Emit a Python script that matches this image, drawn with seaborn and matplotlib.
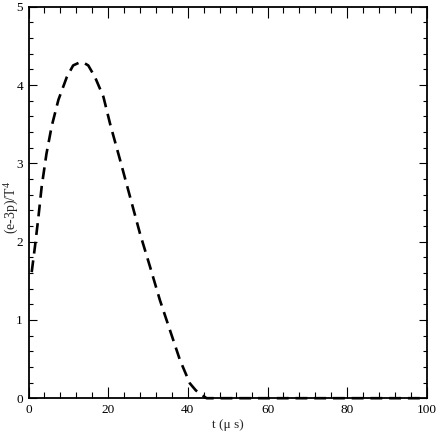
import matplotlib
matplotlib.use("Agg")
import matplotlib.pyplot as plt
import seaborn as sns
from matplotlib.ticker import MultipleLocator

# (e-3p)/T^4
t_us = [0.8, 1.6, 2.5, 3.3, 4.5, 5.8, 7.5, 9.6, 11.2, 12.9, 14.0, 15.0, 16.7,
        18.8, 20.5, 23.0, 25.5, 28.0, 30.5, 33.0, 35.5, 38.0, 40.5, 42.0, 43.0,
        44.7, 46.0, 50.0, 60.0, 70.0, 80.0, 90.0, 100.0]
trace = [1.61, 1.93, 2.32, 2.70, 3.12, 3.47, 3.81, 4.10, 4.25, 4.29, 4.28, 4.25, 4.10,
         3.85, 3.50, 3.04, 2.57, 2.10, 1.68, 1.25, 0.87, 0.49, 0.19, 0.10, 0.06,
         0.0, 0.0, 0.0, 0.0, 0.0, 0.0, 0.0, 0.0]

sns.set_style("ticks")
plt.rcParams['font.family'] = ['Liberation Serif', 'DejaVu Serif']
plt.rcParams['mathtext.fontset'] = 'custom'
plt.rcParams['mathtext.rm'] = 'Liberation Serif'

fig = plt.figure(figsize=(4.36, 4.36), dpi=100)
ax = fig.add_axes([0.0654, 0.0867, 0.9136, 0.8979])

sns.lineplot(x=t_us, y=trace, ax=ax, color="black", linewidth=1.9,
             sort=False, estimator=None)
curve = ax.lines[0]
curve.set_dashes((4.5, 2.6))
# the flat tail sits on the axis in the reference, drawn over the spine
curve.set_zorder(3)
curve.set_clip_on(False)

ax.set_xlim(0, 100)
ax.set_ylim(0, 5)
ax.xaxis.set_major_locator(MultipleLocator(20))
ax.xaxis.set_minor_locator(MultipleLocator(4))
ax.yaxis.set_major_locator(MultipleLocator(1))
ax.yaxis.set_minor_locator(MultipleLocator(0.2))

ax.tick_params(axis="both", which="both", direction="in", top=True, right=True,
               width=0.8, colors="black", labelsize=9.5)
ax.tick_params(axis="x", which="major", length=8, pad=4)
ax.tick_params(axis="x", which="minor", length=4.3)
ax.tick_params(axis="y", which="major", length=5.8, pad=4)
ax.tick_params(axis="y", which="minor", length=3)

for side in ax.spines.values():
    side.set_linewidth(1.3)
    side.set_color("black")

ax.set_xlabel("t (\u03bc s)", fontsize=9.5, labelpad=2)
ax.set_ylabel("(e-3p)/T$^{4}$", fontsize=10)
# keep the rotated label inside the canvas, centred like the reference
ax.yaxis.set_label_coords(-0.046, 0.488)
ax.yaxis.label.set_va("center")

fig.savefig("out.png", dpi=100)
